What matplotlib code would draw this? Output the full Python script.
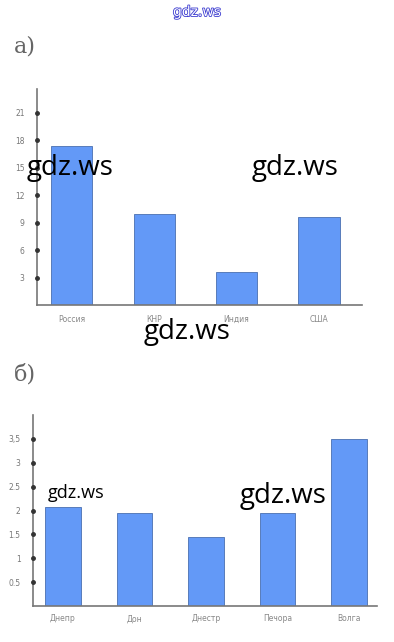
import numpy as np
import matplotlib
matplotlib.use("Agg")
import matplotlib.pyplot as plt
import matplotlib.patheffects as pe

# данные
countries = ["Россия", "КНР", "Индия", "США"]
values_a = [17.4, 9.9, 3.6, 9.6]
ticks_a = [3, 6, 9, 12, 15, 18, 21]

rivers = ["Днепр", "Дон", "Днестр", "Печора", "Волга"]
values_b = [2.08, 1.94, 1.45, 1.94, 3.5]
ticks_b = [0.5, 1, 1.5, 2, 2.5, 3, 3.5]
tick_labels_b = ["0.5", "1", "1.5", "2", "2.5", "3", "3,5"]

W, H = 394, 642
bar_color = "#6399f7"
edge_color = "#4a6fb0"
axis_color = "#777777"
label_color = "#888888"

fig = plt.figure(figsize=(W / 100, H / 100), dpi=100)


def px_axes(left, right, bottom, top):
    return fig.add_axes([left / W, (H - bottom) / H, (right - left) / W, (bottom - top) / H])


def draw_chart(ax, cats, vals, ticks, tick_labels, xlim, ylim, label_pad):
    x = np.arange(len(cats))
    ax.bar(x, vals, width=0.5, color=bar_color, edgecolor=edge_color, linewidth=0.6)
    ax.set_xlim(*xlim)
    ax.set_ylim(*ylim)
    for s in ["top", "right"]:
        ax.spines[s].set_visible(False)
    for s in ["left", "bottom"]:
        ax.spines[s].set_color(axis_color)
        ax.spines[s].set_linewidth(1.2)
    ax.set_xticks(x)
    ax.set_xticklabels(cats, fontsize=5.5, color=label_color)
    ax.tick_params(axis="x", length=0, pad=label_pad)
    ax.set_yticks(ticks)
    ax.set_yticklabels(tick_labels, fontsize=5.5, color="#777777")
    ax.tick_params(axis="y", length=0, pad=9)
    ax.plot(np.full(len(ticks), xlim[0]), ticks, "o", color="#333333",
            markersize=2.5, clip_on=False, zorder=5)


# а)
ax1 = px_axes(37, 362, 305, 89)
draw_chart(ax1, countries, values_a, ticks_a, [str(t) for t in ticks_a],
           (-0.42, 3.52), (0, 23.6), 7)

# б)
ax2 = px_axes(33, 377, 606, 415)
draw_chart(ax2, rivers, values_b, ticks_b, tick_labels_b,
           (-0.417, 4.39), (0, 4.0), 6)

# подписи частей
fig.text(14 / W, 1 - 47 / H, "а)", fontsize=16, family="DejaVu Serif",
         color="#666666", va="center", ha="left")
fig.text(14 / W, 1 - 375 / H, "б)", fontsize=16, family="DejaVu Serif",
         color="#666666", va="center", ha="left")

# водяные знаки
fig.text(197 / W, 1 - 12 / H, "gdz.ws", fontsize=10, color="white", ha="center",
         va="center", family="DejaVu Sans",
         path_effects=[pe.withStroke(linewidth=1.2, foreground="#3a3ad0")])
wm = dict(color="black", ha="center", va="center", family="Open Sans", zorder=10)
fig.text(70 / W, 1 - 168 / H, "gdz.ws", fontsize=20, **wm)
fig.text(295 / W, 1 - 168 / H, "gdz.ws", fontsize=20, **wm)
fig.text(187 / W, 1 - 332 / H, "gdz.ws", fontsize=20, **wm)
fig.text(76 / W, 1 - 493 / H, "gdz.ws", fontsize=13, **wm)
fig.text(283 / W, 1 - 496 / H, "gdz.ws", fontsize=20, **wm)

fig.savefig("out.png", dpi=100)
